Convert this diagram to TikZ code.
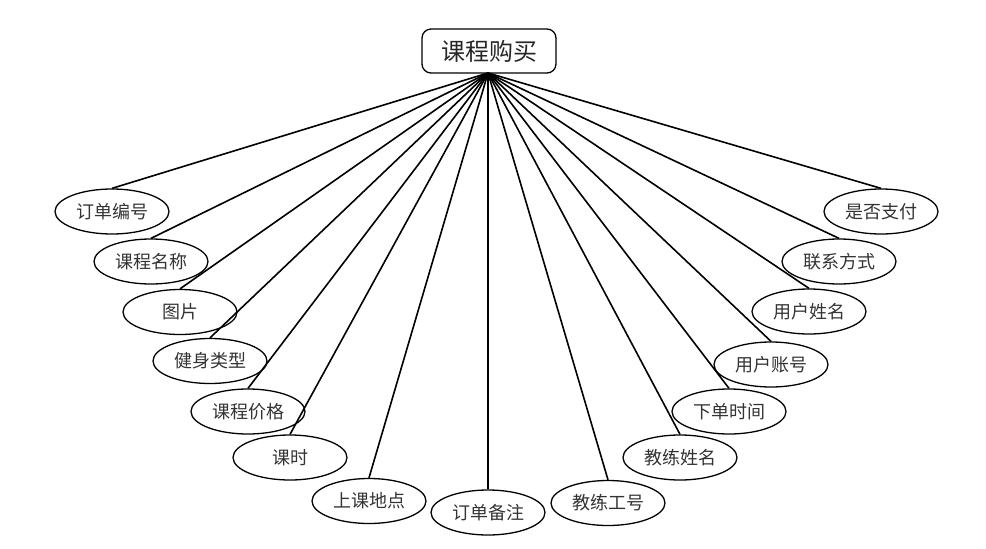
\documentclass[tikz,border=0pt]{standalone}
\usepackage{fontspec}
\newfontfamily\cjk{Noto Sans CJK SC}
\usetikzlibrary{shapes.geometric}
\begin{document}
\begin{tikzpicture}[x=1pt,y=-1pt,
  attr/.style={ellipse,draw,line width=1.3pt,minimum width=114pt,minimum height=45pt,inner sep=0pt,font=\cjk\fontsize{18}{18}\selectfont,text=black!80},
  title/.style={rectangle,rounded corners=9pt,draw,line width=1.3pt,minimum width=134pt,minimum height=44pt,inner sep=0pt,font=\cjk\fontsize{24}{24}\selectfont,text=black!85},
  link/.style={line width=1.6pt}]
\useasboundingbox (0,0) rectangle (986,549);
\node[title] (top) at (489,51) {课程购买};
\coordinate (o) at (488,73);
\node[attr] (a1) at (112,211.5) {订单编号};
\node[attr] (a2) at (151,261.5) {课程名称};
\node[attr] (a3) at (180,312) {图片};
\node[attr] (a4) at (210,361) {健身类型};
\node[attr] (a5) at (248,411.5) {课程价格};
\node[attr] (a6) at (290,457.5) {课时};
\node[attr] (a7) at (369,501) {上课地点};
\node[attr] (a8) at (488,512.5) {订单备注};
\node[attr] (a9) at (608,503) {教练工号};
\node[attr] (a10) at (680,457.5) {教练姓名};
\node[attr] (a11) at (729,411.5) {下单时间};
\node[attr] (a12) at (771,364.5) {用户账号};
\node[attr] (a13) at (809,311.5) {用户姓名};
\node[attr] (a14) at (839,261.5) {联系方式};
\node[attr] (a15) at (881,211.5) {是否支付};
\foreach \i in {1,...,15} {\draw[link] (o) -- (a\i.north);}
\end{tikzpicture}
\end{document}
